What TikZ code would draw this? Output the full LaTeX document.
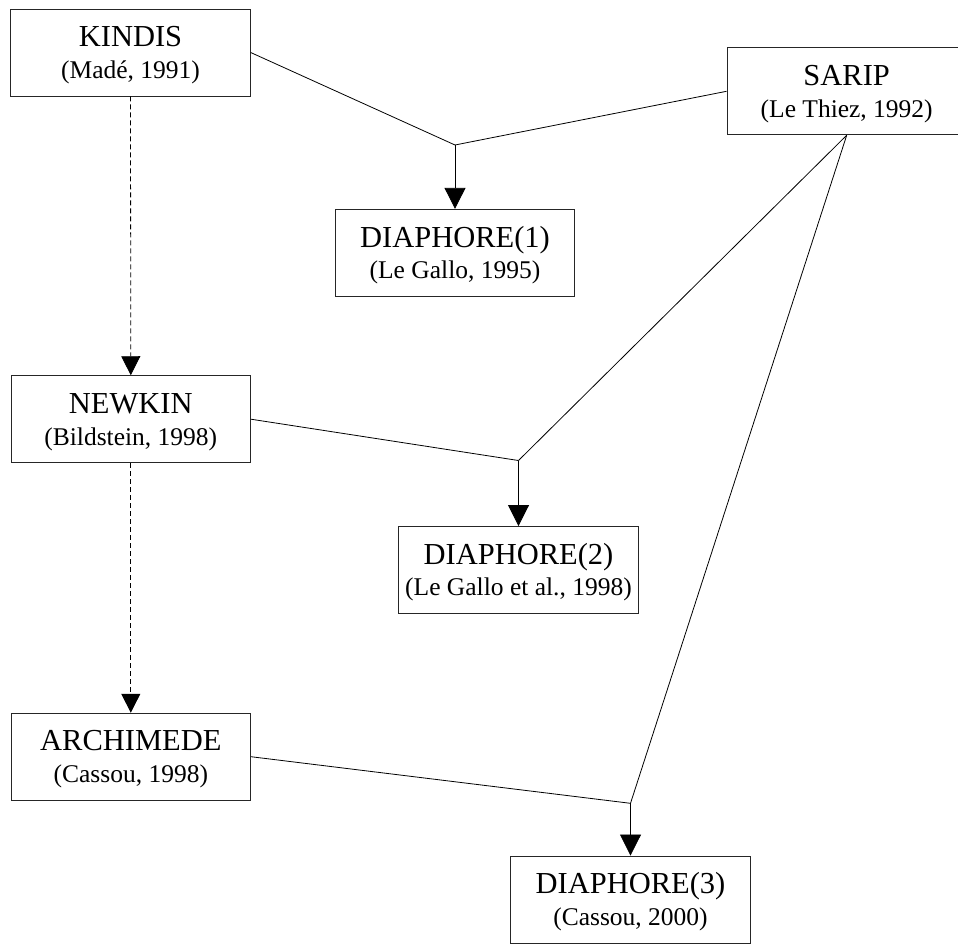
\documentclass[tikz,border=0pt]{standalone}
\usepackage{fontspec}
\setmainfont{Liberation Serif}
\usetikzlibrary{arrows.meta}
\newcommand\bigline[1]{{\fontsize{30.5}{32}\selectfont\rule{0pt}{25.6pt}#1}}
\tikzset{
  sysbox/.style={draw=black!85, line width=0.9pt, rectangle, inner sep=0pt,
    minimum width=239.5pt, minimum height=87pt, align=center,
    font=\fontsize{25.5}{31.6}\selectfont},
  link/.style={draw=black, line width=0.8pt},
  feed/.style={draw=black, line width=0.8pt, -{Triangle[width=21pt,length=21pt]}},
  heritage/.style={draw=black, line width=0.8pt, dash pattern=on 5pt off 3pt,
    -{Triangle[width=19pt,length=19pt]}}
}
\begin{document}
\begin{tikzpicture}[x=1pt,y=-1pt]
\useasboundingbox (0,0) rectangle (958,943);
\clip (0,0) rectangle (958,943);
\node[sysbox] (kindis) at (130.5,52.5) {\bigline{KINDIS}\\(Madé, 1991)};
\node[sysbox] (sarip) at (846.7,91.3) {\bigline{SARIP}\\(Le Thiez, 1992)};
\node[sysbox] (d1) at (455,252.8) {\bigline{DIAPHORE(1)}\\(Le Gallo, 1995)};
\node[sysbox] (newkin) at (130.8,419.2) {\bigline{NEWKIN}\\(Bildstein, 1998)};
\node[sysbox] (d2) at (518.5,570) {\bigline{DIAPHORE(2)}\\(Le Gallo et al., 1998)};
\node[sysbox] (archi) at (130.8,756.7) {\bigline{ARCHIMEDE}\\(Cassou, 1998)};
\node[sysbox] (d3) at (630.5,899.5) {\bigline{DIAPHORE(3)}\\(Cassou, 2000)};
\coordinate (j1) at (455,145);
\coordinate (j2) at (518.5,460.5);
\coordinate (j3) at (630.5,803.3);
\draw[link] (kindis.east) -- (j1);
\draw[link] (sarip.west) -- (j1);
\draw[feed] (j1) -- (d1.north);
\draw[link] (newkin.east) -- (j2);
\draw[link] (sarip.south) -- (j2);
\draw[feed] (j2) -- (d2.north);
\draw[link] (archi.east) -- (j3);
\draw[link] (sarip.south) -- (j3);
\draw[feed] (j3) -- (d3.north);
\draw[heritage] (kindis.south) -- (newkin.north);
\draw[heritage] (newkin.south) -- (archi.north);
\end{tikzpicture}
\end{document}
